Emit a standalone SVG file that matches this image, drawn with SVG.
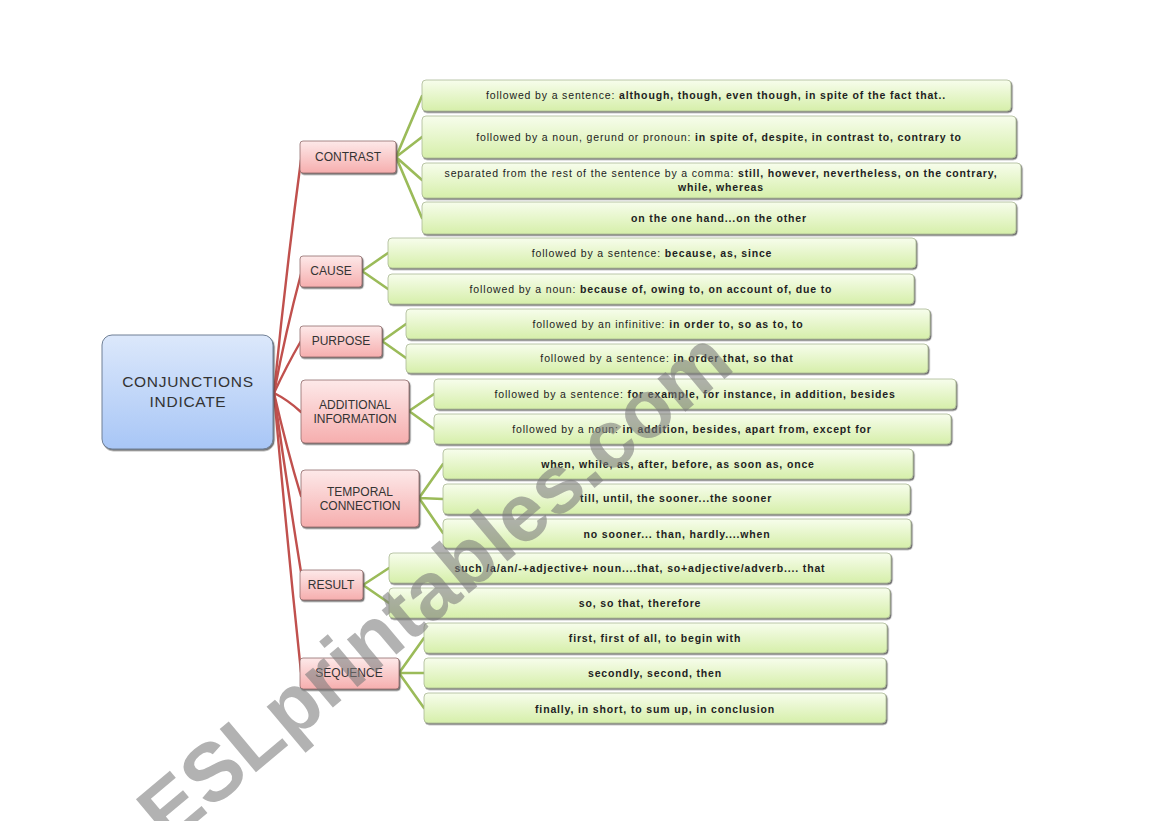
<svg xmlns="http://www.w3.org/2000/svg" width="1169" height="821" viewBox="0 0 1169 821">
<defs>
<linearGradient id="gLeaf" x1="0" y1="0" x2="0" y2="1"><stop offset="0" stop-color="#f7fdec"/><stop offset="1" stop-color="#d6efaa"/></linearGradient>
<linearGradient id="gCat" x1="0" y1="0" x2="0" y2="1"><stop offset="0" stop-color="#fde9e9"/><stop offset="1" stop-color="#f6aeae"/></linearGradient>
<linearGradient id="gMain" x1="0" y1="0" x2="0" y2="1"><stop offset="0" stop-color="#dce8fb"/><stop offset="1" stop-color="#a8c6f6"/></linearGradient>
<filter id="sh" x="-5%" y="-20%" width="110%" height="150%"><feDropShadow dx="1.2" dy="1.5" stdDeviation="0.7" flood-color="#444" flood-opacity="0.75"/></filter>
</defs>
<style>
.leaf{fill:url(#gLeaf);stroke:#a9b894;stroke-width:0.8;filter:url(#sh)}
.cat{fill:url(#gCat);stroke:#8f6a6a;stroke-width:0.8;filter:url(#sh)}
.main{fill:url(#gMain);stroke:#6f7f95;stroke-width:1;filter:url(#sh)}
.t{font-family:"Comic Sans MS","Liberation Sans",sans-serif;font-size:10.5px;letter-spacing:0.85px;fill:#222;text-anchor:middle}
.b{font-weight:bold}
.ct{font-family:"Comic Sans MS","Liberation Sans",sans-serif;font-size:12px;fill:#333;text-anchor:middle}
.mt{font-family:"Comic Sans MS","Liberation Sans",sans-serif;font-size:15.5px;letter-spacing:0.7px;fill:#333;text-anchor:middle}
.red{fill:none;stroke:#c0504d;stroke-width:2.4;stroke-linecap:round}
.grn{fill:none;stroke:#9bbb59;stroke-width:2.6;stroke-linecap:round}
.wm{font-family:"Liberation Sans",sans-serif;font-weight:bold;font-size:82px;fill:#7a7a7a;fill-opacity:0.58}
</style>

<g id="connectors">
<path class="red" d="M274,393 Q285,280 301,160"/>
<path class="red" d="M274,393 Q286,330 301,274"/>
<path class="red" d="M274,393 Q287,365 301,341"/>
<path class="red" d="M274,393 Q288,400 301,412"/>
<path class="red" d="M274,393 Q287,450 301,496"/>
<path class="red" d="M274,393 Q287,485 301,572"/>
<path class="red" d="M274,393 Q286,530 301,672"/>
<path class="grn" d="M396,157 L422,96 M396,157 L422,137 M396,157 L422,180 M396,157 L422,218"/>
<path class="grn" d="M362,271 L388,253 M362,271 L388,289"/>
<path class="grn" d="M382,341 L406,324 M382,341 L406,358"/>
<path class="grn" d="M409,411 L434,394 M409,411 L434,429"/>
<path class="grn" d="M419,498 L443,464 M419,498 L443,499 M419,498 L443,533"/>
<path class="grn" d="M363,585 L389,568 M363,585 L389,603"/>
<path class="grn" d="M399,673 L424,638 M399,673 L424,673 M399,673 L424,708"/>
</g>

<g id="main"><rect class="main" x="102" y="335" width="171" height="114" rx="10"/>
<text class="mt" x="188" y="387">CONJUNCTIONS</text><text class="mt" x="188" y="407">INDICATE</text></g>

<g id="cat-contrast"><rect class="cat" x="300" y="141" width="96" height="32" rx="3"/><text class="ct" x="348" y="161">CONTRAST</text></g>
<g id="cat-cause"><rect class="cat" x="300" y="256" width="62" height="31" rx="3"/><text class="ct" x="331" y="275">CAUSE</text></g>
<g id="cat-purpose"><rect class="cat" x="300" y="326" width="82" height="31" rx="3"/><text class="ct" x="341" y="345">PURPOSE</text></g>
<g id="cat-additional"><rect class="cat" x="301" y="380" width="108" height="63" rx="4"/><text class="ct" x="355" y="409">ADDITIONAL</text><text class="ct" x="355" y="423">INFORMATION</text></g>
<g id="cat-temporal"><rect class="cat" x="301" y="470" width="118" height="57" rx="4"/><text class="ct" x="360" y="496">TEMPORAL</text><text class="ct" x="360" y="510">CONNECTION</text></g>
<g id="cat-result"><rect class="cat" x="300" y="570" width="63" height="30" rx="3"/><text class="ct" x="331" y="589">RESULT</text></g>
<g id="cat-sequence"><rect class="cat" x="300" y="658" width="99" height="31" rx="3"/><text class="ct" x="349" y="677">SEQUENCE</text></g>

<g id="leaf1"><rect class="leaf" x="422" y="80" width="589" height="31" rx="4"/><text class="t" x="716" y="99">followed by a sentence:  <tspan class="b">although, though, even though, in spite of the fact that..</tspan></text></g>
<g id="leaf2"><rect class="leaf" x="422" y="116" width="594" height="42" rx="4"/><text class="t" x="719" y="141">followed by a noun, gerund or pronoun: <tspan class="b">in spite of, despite, in contrast to, contrary to</tspan></text></g>
<g id="leaf3"><rect class="leaf" x="422" y="163" width="599" height="35" rx="4"/><text class="t" x="721" y="177">separated from the rest of the sentence by a comma: <tspan class="b">still, however, nevertheless, on the contrary,</tspan></text><text class="t b" x="721" y="191">while, whereas</text></g>
<g id="leaf4"><rect class="leaf" x="422" y="202" width="594" height="32" rx="4"/><text class="t b" x="719" y="222">on the one hand...on the other</text></g>
<g id="leaf5"><rect class="leaf" x="388" y="238" width="528" height="30" rx="4"/><text class="t" x="652" y="257">followed by a sentence: <tspan class="b">because, as, since</tspan></text></g>
<g id="leaf6"><rect class="leaf" x="388" y="274" width="526" height="30" rx="4"/><text class="t" x="651" y="293">followed by a noun: <tspan class="b">because of, owing to, on account of, due to</tspan></text></g>
<g id="leaf7"><rect class="leaf" x="406" y="309" width="524" height="30" rx="4"/><text class="t" x="668" y="328">followed by an infinitive: <tspan class="b">in order to, so as to, to</tspan></text></g>
<g id="leaf8"><rect class="leaf" x="406" y="344" width="522" height="29" rx="4"/><text class="t" x="667" y="362">followed by a sentence: <tspan class="b">in order that, so that</tspan></text></g>
<g id="leaf9"><rect class="leaf" x="434" y="379" width="522" height="30" rx="4"/><text class="t" x="695" y="398">followed by a sentence: <tspan class="b">for example, for instance, in addition, besides</tspan></text></g>
<g id="leaf10"><rect class="leaf" x="434" y="414" width="517" height="30" rx="4"/><text class="t" x="692" y="433">followed by a noun: <tspan class="b">in addition, besides, apart from, except for</tspan></text></g>
<g id="leaf11"><rect class="leaf" x="443" y="449" width="470" height="30" rx="4"/><text class="t b" x="678" y="468">when, while, as, after, before, as soon as, once</text></g>
<g id="leaf12"><rect class="leaf" x="443" y="484" width="467" height="30" rx="4"/><text class="t b" x="676" y="502">till, until, the sooner...the sooner</text></g>
<g id="leaf13"><rect class="leaf" x="443" y="519" width="468" height="29" rx="4"/><text class="t b" x="677" y="538">no sooner... than, hardly....when</text></g>
<g id="leaf14"><rect class="leaf" x="389" y="553" width="502" height="30" rx="4"/><text class="t b" x="640" y="572">such /a/an/-+adjective+ noun....that, so+adjective/adverb.... that</text></g>
<g id="leaf15"><rect class="leaf" x="389" y="588" width="501" height="30" rx="4"/><text class="t b" x="640" y="607">so, so that, therefore</text></g>
<g id="leaf16"><rect class="leaf" x="424" y="623" width="463" height="30" rx="4"/><text class="t b" x="655" y="642">first, first of all, to begin with</text></g>
<g id="leaf17"><rect class="leaf" x="424" y="658" width="462" height="30" rx="4"/><text class="t b" x="655" y="677">secondly, second, then</text></g>
<g id="leaf18"><rect class="leaf" x="424" y="693" width="462" height="30" rx="4"/><text class="t b" x="655" y="713">finally, in short, to sum up, in conclusion</text></g>

<g id="watermark"><text class="wm" transform="translate(168,846) rotate(-40)">ESLprintables.com</text></g>
</svg>
